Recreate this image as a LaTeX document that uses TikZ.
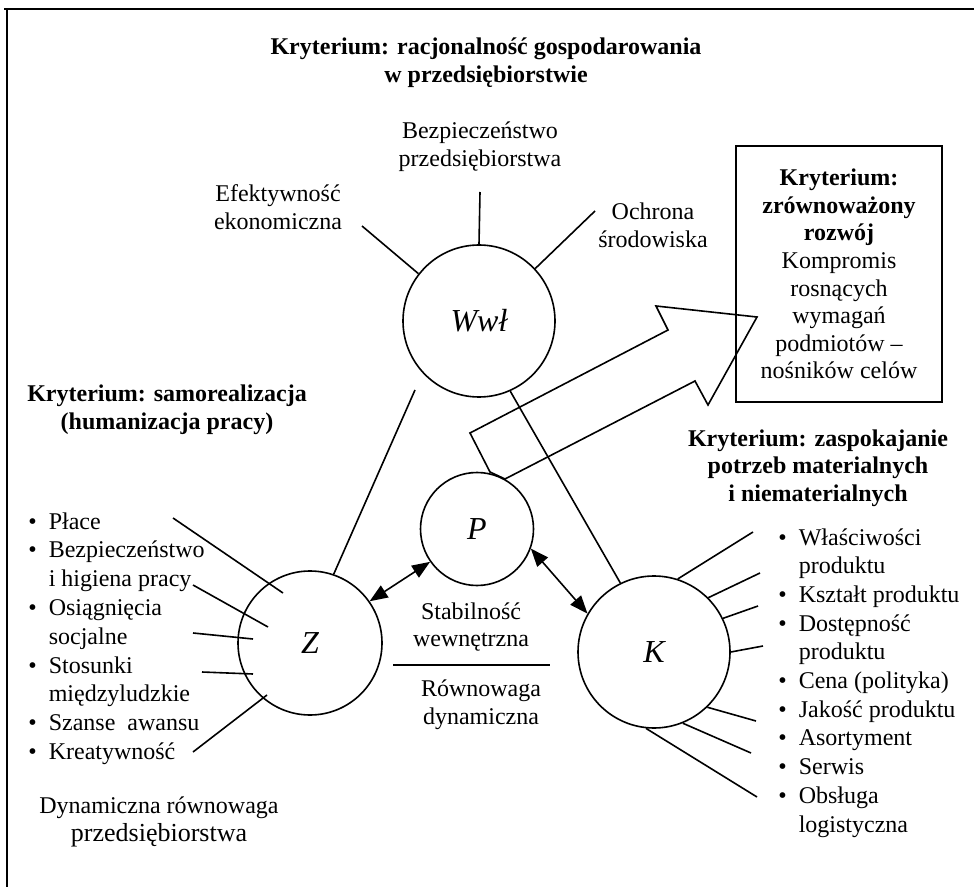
\documentclass[tikz,border=0pt]{standalone}
\usepackage{fontspec}
\setmainfont{Liberation Serif}
\usetikzlibrary{arrows.meta}
\newcommand{\bul}{\llap{\textbullet\hspace{6pt}}}

\begin{document}
\begin{tikzpicture}[x=0.5pt, y=-0.5pt, line width=0.8pt,
  font=\fontsize{12}{13.8}\selectfont,
  krit/.style={font=\fontsize{12}{13.8}\selectfont\bfseries, align=center, inner sep=0pt},
  opis/.style={align=center, inner sep=0pt},
  kolo/.style={circle, draw, inner sep=0pt, font=\fontsize{16}{19}\selectfont\itshape},
  punkt/.style={anchor=base west, inner sep=0pt},
  dwu/.style={{Triangle[length=9pt,width=7pt]}-{Triangle[length=9pt,width=7pt]}}]
  \useasboundingbox (0,0) rectangle (974,887);
  \draw[line width=1.2pt] (4,9) -- (974,9);
  \draw[line width=1.2pt] (7,9) -- (7,887);

  %% big arrow towards the box, tail hidden under P
  \draw (470,433) -- (668,330) -- (656,306) -- (757,317) -- (708,405) -- (695,381) -- (505,479) -- (490,472) -- cycle;

  \node[kolo, minimum size=76pt] (Wwl) at (479,321) {Wwł};
  \node[kolo, minimum size=56.5pt, fill=white] (P) at (477,529) {P};
  \node[kolo, minimum size=72pt] (Z) at (310,643) {Z};
  \node[kolo, minimum size=76pt] (K) at (654,652) {K};

  \node[krit] (krytRac) at (486,63) {Kryterium: racjonalność gospodarowania\\w przedsiębiorstwie};
  \node[opis] (bezp) at (480,147) {Bezpieczeństwo\\przedsiębiorstwa};
  \node[opis] (efekt) at (278,207) {Efektywność\\ekonomiczna};
  \node[opis] (ochr) at (653,225) {Ochrona\\środowiska};
  \node[krit] (krytSam) at (167,410) {Kryterium: samorealizacja\\(humanizacja pracy)};
  \node[krit] (krytZasp) at (818,468) {Kryterium: zaspokajanie\\potrzeb materialnych\\i niematerialnych};
  \node[draw, opis, minimum width=103pt, minimum height=128pt] (cel) at (839,274)
    {\textbf{Kryterium:}\\\textbf{zrównoważony}\\\textbf{rozwój}\\Kompromis\\rosnących\\wymagań\\podmiotów –\\nośników celów};
  \node[opis] (stab) at (471,627) {Stabilność\\wewnętrzna};
  \node[opis] (rown) at (481,705) {Równowaga\\dynamiczna};
  \node[opis] (dyn) at (159,822) {Dynamiczna równowaga\\{\fontsize{13}{15}\selectfont przedsiębiorstwa}};

  \foreach \txt [count=\i] in {\bul Płace, \bul Bezpieczeństwo, i higiena pracy, \bul Osiągnięcia, socjalne,
      \bul Stosunki, międzyludzkie, \bul Szanse\ \ awansu, \bul Kreatywność} {  %left list, one line each
    \node[punkt] (zl\i) at (48,{529+28.8*(\i-1)}) {\txt};
  }
  \foreach \txt [count=\i] in {\bul Właściwości, produktu, \bul Kształt produktu, \bul Dostępność, produktu,
      \bul Cena (polityka), \bul Jakość produktu, \bul Asortyment, \bul Serwis, \bul Obsługa, logistyczna} {  %right list
    \node[punkt] (kl\i) at (798,{545+28.7*(\i-1)}) {\txt};
  }

  \foreach \kat/\xx/\yy in {142/362/226, 90/480/192, 43/595/211} {  %spokes of Wwl
    \draw (Wwl.\kat) -- (\xx,\yy);
  }
  \foreach \kat/\xx/\yy in {72/753/532, 45/760/573, 26/758/606, 0/763/646, -46/756/721, -68/751/753, -96/757/797} {  %spokes of K
    \draw (K.\kat) -- (\xx,\yy);
  }
  \foreach \xa/\ya/\xb/\yb in {173/518/283/593, 193/585/268/627, 193/633/253/639, 202/672/253/674, 193/752/267/695} {  %spokes into Z
    \draw (\xa,\ya) -- (\xb,\yb);
  }

  \coordinate (wz) at (415,390);
  \draw (Z.71) -- (wz);
  \draw (Wwl.-66) -- (K.116);
  \draw[dwu] (Z.35) -- (P.215);
  \draw[dwu] (P.-20) -- (K.150);
  \draw (393,665) -- (550,665);
\end{tikzpicture}
\end{document}
